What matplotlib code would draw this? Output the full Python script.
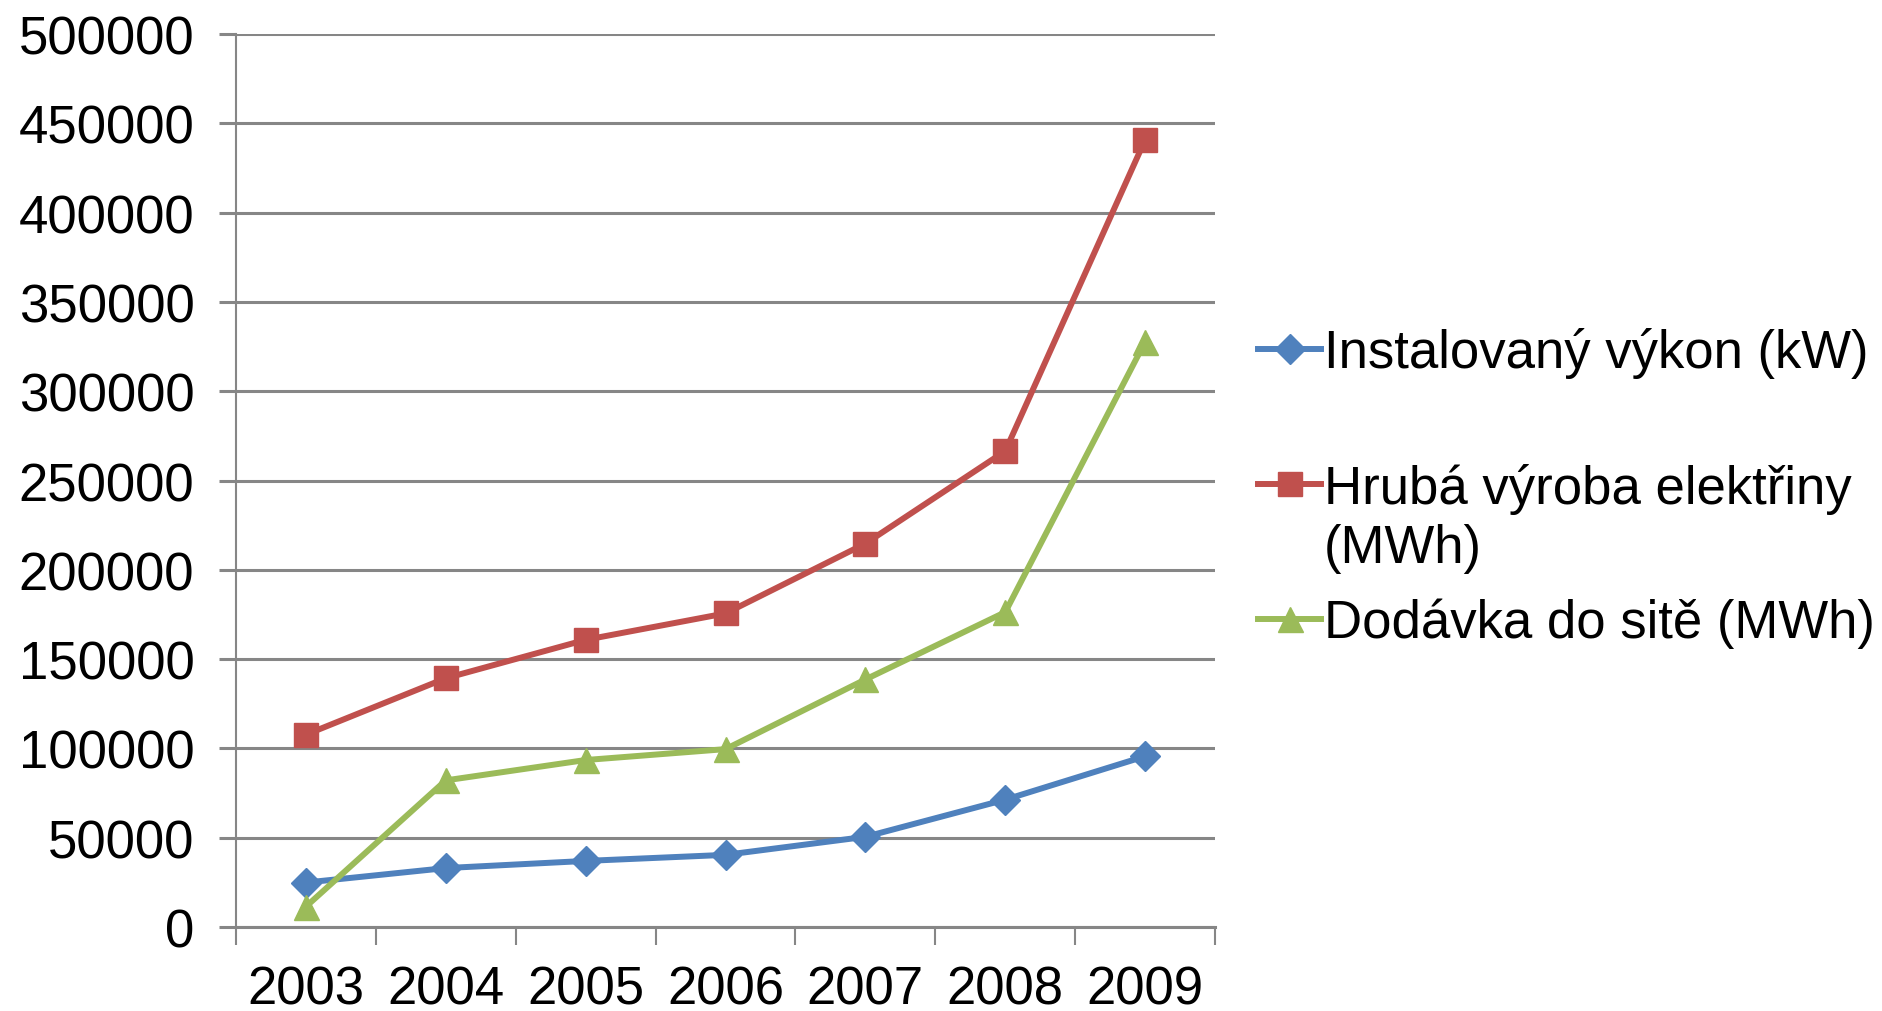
import numpy as np
import matplotlib.pyplot as plt

plt.rcParams['font.family'] = ['Liberation Sans', 'DejaVu Sans']

roky = ['2003', '2004', '2005', '2006', '2007', '2008', '2009']
vykon = [24900, 33000, 37000, 40400, 50500, 71300, 95600]
vyroba = [107700, 139300, 160800, 175600, 214700, 266500, 440800]
dodavka = [11400, 82100, 93500, 99600, 138600, 176300, 327700]
popisky = ['Instalovaný výkon (kW)', 'Hrubá výroba elektřiny', 'Dodávka do sitě (MWh)']
popisek_2_radek = '(MWh)'

seda = '#868686'

fig = plt.figure(figsize=(18.83, 10.12), dpi=100)
ax = fig.add_axes([0.1253, 0.083, 0.52, 0.8824])

x = np.arange(len(roky))
ax.plot(x, vykon, color='#4F81BD', lw=4.3, marker='D', ms=15, label=popisky[0])
ax.plot(x, vyroba, color='#C0504D', lw=4.3, marker='s', ms=17, label=popisky[1])
ax.plot(x, dodavka, color='#9BBB59', lw=4.3, marker='^', ms=18, label=popisky[2])

ax.set_xlim(-0.5, len(roky) - 0.5)
ax.set_ylim(0, 500000)
ax.set_yticks(np.arange(0, 500001, 50000))
ax.yaxis.grid(True, color=seda, lw=2.2)
ax.set_axisbelow(True)

ax.set_xticks(x)
ax.set_xticklabels(roky)
ax.set_xticks(np.arange(-0.5, len(roky)), minor=True)
ax.tick_params(axis='x', which='major', length=0, pad=27, labelsize=38)
ax.tick_params(axis='x', which='minor', length=13, width=1.5, color=seda)
ax.tick_params(axis='y', length=12, width=2.2, color=seda, pad=18, labelsize=38)

for s in ['top', 'right']:
    ax.spines[s].set_visible(False)
ax.spines['left'].set_color(seda)
ax.spines['left'].set_linewidth(1.5)
ax.spines['bottom'].set_color(seda)
ax.spines['bottom'].set_linewidth(2.2)

leg = fig.legend(loc='center left', bbox_to_anchor=(0.668, 0.517), frameon=False,
                 fontsize=38, handlelength=1.2, handletextpad=0.05, labelspacing=1.6,
                 borderpad=0, borderaxespad=0)

# druhy radek popisku cervene rady pod legendou
fig.canvas.draw()
bb = leg.texts[1].get_window_extent()
W, H = fig.bbox.width, fig.bbox.height
fig.text(bb.x0 / W, ((bb.y0 + bb.y1) / 2 - 60) / H, popisek_2_radek,
         fontsize=38, va='center', ha='left')

fig.savefig('out.png', dpi=100)
